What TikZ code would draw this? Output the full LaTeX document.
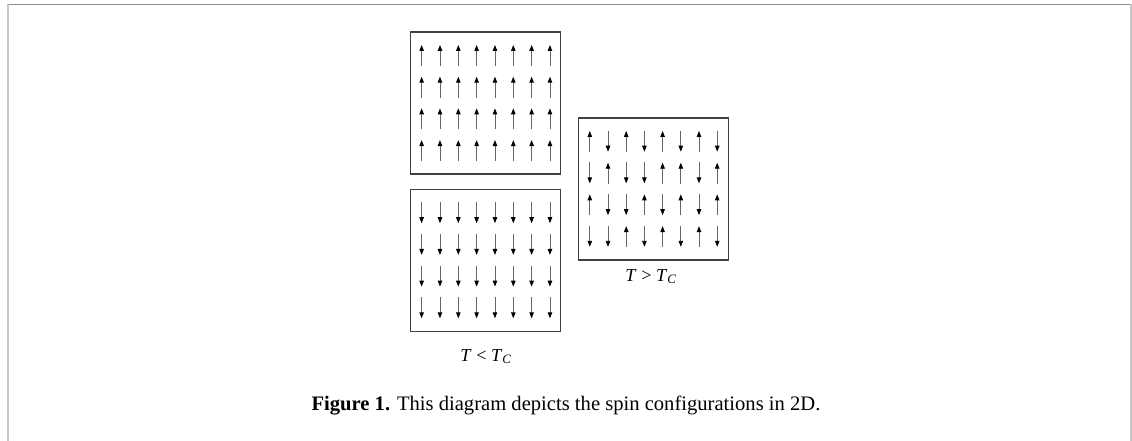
\documentclass[tikz,border=0pt]{standalone}
\usepackage{fontspec}
\setmainfont{Liberation Serif}
\usetikzlibrary{arrows.meta}
\begin{document}
\begin{tikzpicture}[x=1pt,y=-1pt,
  lattice/.style={draw=black!75,line width=1.3pt,minimum width=150pt,minimum height=142pt,inner sep=0pt},
  spin/.style={draw=black!60,line width=0.9pt,-{Triangle[width=4.5pt,length=6pt,black]}},
  frameline/.style={line width=1pt},
  lbl/.style={font=\fontsize{18.3}{22}\selectfont,inner sep=0pt,anchor=base},
  captext/.style={font=\fontsize{20.6}{24}\selectfont,inner sep=0pt,anchor=base}]
\useasboundingbox (0,0) rectangle (1132,441);
% page frame
\draw[frameline,draw=black!45] (8,4.5) -- (1132,4.5);
\draw[line width=2pt,draw=black!22] (8,4) -- (8,441);
\draw[line width=2pt,draw=black!22] (1131,4) -- (1131,441);
% boxes
\node[lattice] (up) at (485.8,103) {};
\node[lattice] (down) at (485.8,260.5) {};
\node[lattice] (mix) at (653.5,189) {};
% spins: up box
\foreach \r in {0,...,3}{
  \foreach \c in {0,...,7}{
    \draw[spin] ([xshift={(\c-3.5)*18.33pt},yshift={-(\r*31.7-47.5+10.5)*1pt}]up.center)
      -- ++(0,-21);
    \draw[spin] ([xshift={(\c-3.5)*18.33pt},yshift={-(\r*31.7-47.5-10.8)*1pt}]down.center)
      -- ++(0,21);
  }
}
% spins: mixed box (1 = up, 0 = down)
\foreach \row [count=\r from 0] in {{1,0,1,0,1,0,1,0},{0,1,0,0,1,1,0,1},{1,0,0,1,0,1,0,1},{0,0,1,0,1,0,1,0}}{
  \foreach \s [count=\c from 0] in \row {
    \ifnum\s=1
      \draw[spin] ([xshift={(\c-3.5)*18.2pt},yshift={-(\r*31.7-47.5+10.5)*1pt}]mix.center) -- ++(0,-21);
    \else
      \draw[spin] ([xshift={(\c-3.5)*18.2pt},yshift={-(\r*31.7-47.5-10.8)*1pt}]mix.center) -- ++(0,21);
    \fi
  }
}
% labels
\node[lbl] (lt) at (486,361) {\textit{T} < \textit{T}\textsubscript{\textit{C}}};
\node[lbl] (gt) at (651,281) {\textit{T} > \textit{T}\textsubscript{\textit{C}}};
\node[captext] (caption) at (566,410) {\textbf{Figure 1.} This diagram depicts the spin configurations in 2D.};
\end{tikzpicture}
\end{document}
